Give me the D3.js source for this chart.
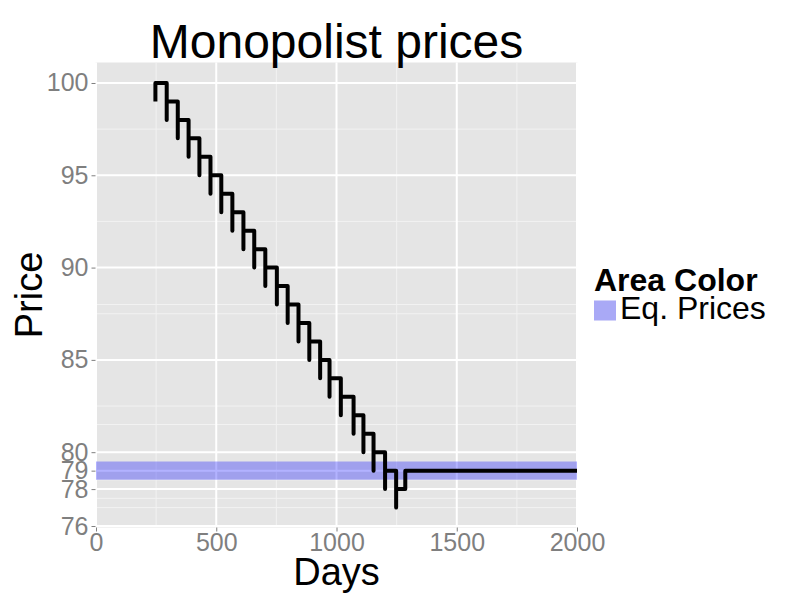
<!DOCTYPE html>
<html><head><meta charset="utf-8">
<script src="https://cdn.jsdelivr.net/npm/d3@7"></script>
<style>body{margin:0;background:#fff;} text{font-family:"Liberation Sans",Arial,sans-serif;}</style>
</head><body><svg id="c" width="800" height="600"></svg>
<script>
// step data (geom_step points)
const days = [247,247,294,294,340,340,385,385,430,430,476,476,521,521,567,567,613,613,658,658,704,704,752,752,797,797,842,842,887,887,932,932,971,971,1018,1018,1071,1071,1112,1112,1154,1154,1202,1202,1248,1248,1286,2000];
const prices = [99,100,98,99,97,98,96,97,95,96,94,95,93,94,92,93,91,92,90,91,89,90,88,89,87,88,86,87,85,86,84,85,83,84,82,83,81,82,80,81,79,80,78,79,77,78,79,79];
// equilibrium price band
const bandDays = [0, 2000];
const bandLow = [78.5, 78.5];
const bandHigh = [79.5, 79.5];
// ticks
const xTicks = [0, 500, 1000, 1500, 2000];
const xMinor = [250, 750, 1250, 1750];
const yTicks = [76, 78, 79, 80, 85, 90, 95, 100];
const yMinor = [77, 77.5, 78.5, 81.5, 82.5, 87.5, 88, 92.5, 97.5];
const titleText = "Monopolist prices";
const xLabel = "Days", yLabel = "Price";
const legendTitle = "Area Color", legendLabel = "Eq. Prices";

const svg = d3.select("#c");
const L = 95.5, R = 577.5, T = 62.5, B = 527.5;
const x = d3.scaleLinear().domain([0, 2000]).range([96, 577]);
const y = d3.scaleLinear().domain([75.92, 101.11]).range([B, T]);

svg.append("rect").attr("x", L).attr("y", T).attr("width", R - L).attr("height", B - T).attr("fill", "#e5e5e5");

const g = svg.append("g");
g.selectAll(".ymin").data(yMinor).join("line")
  .attr("x1", L).attr("x2", R).attr("y1", d => y(d)).attr("y2", d => y(d))
  .attr("stroke", "#f2f2f2").attr("stroke-width", 1);
g.selectAll(".xmin").data(xMinor).join("line")
  .attr("y1", T).attr("y2", B).attr("x1", d => x(d)).attr("x2", d => x(d))
  .attr("stroke", "#f2f2f2").attr("stroke-width", 1);
g.selectAll(".ymaj").data(yTicks).join("line")
  .attr("x1", L).attr("x2", R).attr("y1", d => y(d)).attr("y2", d => y(d))
  .attr("stroke", "#ffffff").attr("stroke-width", 2);
g.selectAll(".xmaj").data(xTicks).join("line")
  .attr("y1", T).attr("y2", B).attr("x1", d => x(d)).attr("x2", d => x(d))
  .attr("stroke", "#ffffff").attr("stroke-width", 2);

// band
const band = bandDays.map((d, i) => ({d, lo: bandLow[i], hi: bandHigh[i]}));
svg.append("path").datum(band)
  .attr("d", d3.area().x(p => x(p.d)).y0(p => y(p.lo)).y1(p => y(p.hi)))
  .attr("fill", "blue").attr("fill-opacity", 0.3);

// step line
const pts = days.map((d, i) => ({d, p: prices[i]}));
svg.append("path").datum(pts)
  .attr("d", d3.line().x(p => x(p.d)).y(p => y(p.p)).curve(d3.curveStepAfter))
  .attr("fill", "none").attr("stroke", "#000").attr("stroke-width", 4)
  .attr("stroke-linejoin", "round");

// axes
const ya = svg.append("g").attr("transform", `translate(${L},0)`)
  .call(d3.axisLeft(y).tickValues(yTicks).tickSize(4).tickPadding(3).tickFormat(d3.format("d")));
const xa = svg.append("g").attr("transform", `translate(0,${B})`)
  .call(d3.axisBottom(x).tickValues(xTicks).tickSize(4).tickPadding(2).tickFormat(d3.format("d")));
[ya, xa].forEach(a => {
  a.select(".domain").remove();
  a.selectAll("line").attr("stroke", "#7f7f7f");
  a.selectAll("text").attr("fill", "#7f7f7f").style("font-size", "25px")
    .style("font-family", "'Liberation Sans',Arial,sans-serif");
});

// titles
svg.append("text").attr("x", (L + R) / 2).attr("y", 58).attr("text-anchor", "middle")
  .style("font-size", "48px").attr("fill", "#000").text(titleText);
svg.append("text").attr("x", (L + R) / 2).attr("y", 585).attr("text-anchor", "middle")
  .style("font-size", "38px").attr("fill", "#000").text(xLabel);
svg.append("text").attr("transform", `translate(42,${(T + B) / 2}) rotate(-90)`).attr("text-anchor", "middle")
  .style("font-size", "38px").attr("fill", "#000").text(yLabel);

// legend
svg.append("text").attr("x", 594).attr("y", 291).style("font-size", "32px").style("font-weight", "bold")
  .attr("fill", "#000").text(legendTitle);
svg.append("rect").attr("x", 594).attr("y", 300.5).attr("width", 22).attr("height", 20).attr("fill", "#f2f2f2");
svg.append("rect").attr("x", 594).attr("y", 300.5).attr("width", 22).attr("height", 20).attr("fill", "blue").attr("fill-opacity", 0.3);
svg.append("text").attr("x", 620).attr("y", 319).style("font-size", "32px").attr("fill", "#000").text(legendLabel);
</script></body></html>
